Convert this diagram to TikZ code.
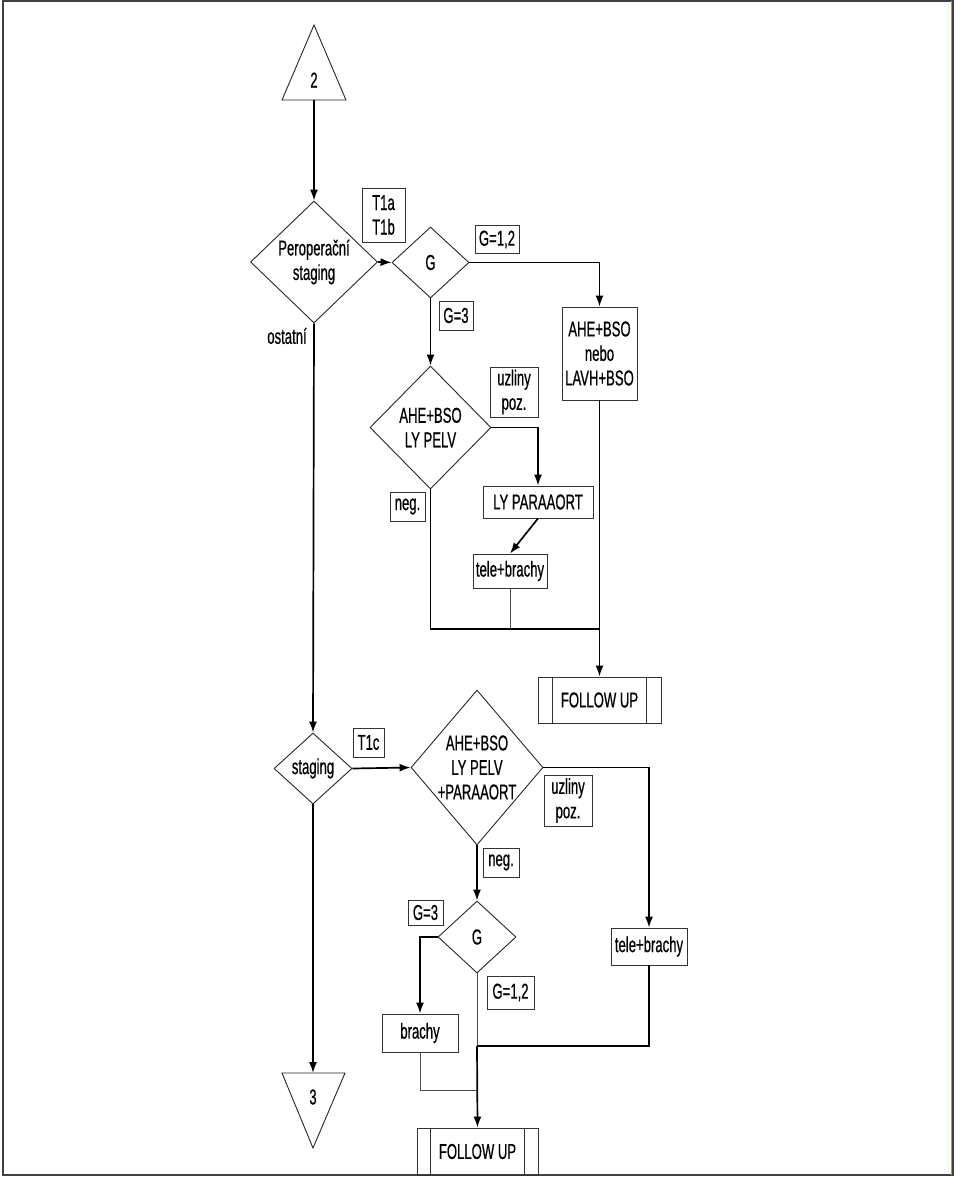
\documentclass[tikz,border=0pt]{standalone}
\usepackage{fontspec}
\setmainfont{Liberation Sans}[FakeStretch=0.61,FakeBold=0.6]
\usetikzlibrary{arrows.meta,shapes.geometric}
\begin{document}
\begin{tikzpicture}[x=1pt,y=-1pt,
 every node/.style={font=\fontsize{21.5}{24.5}\selectfont},
 box/.style={draw=black!80, line width=0.9pt, inner sep=0pt, align=center},
 dia/.style={draw=black!85, diamond, inner sep=0pt, line width=0.9pt},
 txt/.style={align=center, inner sep=0pt},
 conn/.style={line width=1.7pt},
 thinconn/.style={line width=0.9pt, draw=black!70},
 arr/.style={conn, -{Latex[length=11pt,width=8pt]}},
]
\useasboundingbox (0,0) rectangle (960,1183);
% frame
\draw[line width=1.5pt, black!75] (3,1) rectangle (953,1175);
\draw[line width=1pt, orange!85!brown] (951.5,1) -- (951.5,1175);

% top triangle
\draw[line width=0.9pt, black!85] (314,25) -- (346,100) -- (282,100) -- cycle;
\node[txt] (t2) at (314,80) {2};
\coordinate (t2b) at (314,100);

\node[dia, minimum width=127, minimum height=122] (pero) at (314,262) {};
\node[txt] (perot) at (pero) {Peroperační\\staging};
\node[box, minimum width=43, minimum height=54] (t1ab) at (383.5,215) {T1a\\T1b};
\node[dia, minimum width=77, minimum height=71] (g1) at (430.5,262.5) {};
\node[txt] (g1t) at (g1) {G};
\node[box, minimum width=44, minimum height=28] (g12a) at (497,239.5) {G=1,2};
\node[box, minimum width=75, minimum height=93] (ahe1) at (599.5,353.5) {AHE+BSO\\nebo\\LAVH+BSO};
\node[box, minimum width=34, minimum height=29] (g3a) at (456,315.5) {G=3};
\node[dia, minimum width=121, minimum height=123] (d1) at (430.5,427.5) {};
\node[txt] (d1t) at (d1) {AHE+BSO\\LY PELV};
\node[box, minimum width=48, minimum height=50] (uzl1) at (514,392) {uzliny\\poz.};
\node[box, minimum width=110, minimum height=32] (lypa) at (538,502) {LY PARAAORT};
\node[box, minimum width=74, minimum height=34] (tb1) at (510,571) {tele+brachy};
\node[box, minimum width=35, minimum height=29] (neg1) at (407.5,506.5) {neg.};
\node[box, minimum width=123, minimum height=46] (fu1) at (599.5,700) {FOLLOW UP};
\draw[line width=0.9pt, black!80] ([xshift=15]fu1.north west) -- ([xshift=15]fu1.south west);
\draw[line width=0.9pt, black!80] ([xshift=-15]fu1.north east) -- ([xshift=-15]fu1.south east);
\node[txt] (ost) at (287,336) {ostatní};

\node[dia, minimum width=78, minimum height=71] (stag) at (313,768.5) {};
\node[txt] (stagt) at (stag) {staging};
\node[box, minimum width=31, minimum height=29] (t1c) at (368.5,742.5) {T1c};
\node[dia, minimum width=132, minimum height=155] (d2) at (477,767.5) {};
\node[txt] (d2t) at (d2) {AHE+BSO\\LY PELV\\+PARAAORT};
\node[box, minimum width=48, minimum height=51] (uzl2) at (568,800.5) {uzliny\\poz.};
\node[box, minimum width=76, minimum height=37] (tb2) at (649,946.5) {tele+brachy};
\node[box, minimum width=36, minimum height=29] (neg2) at (501,862.5) {neg.};
\node[dia, minimum width=78, minimum height=72] (g2) at (477,937) {};
\node[txt] (g2t) at (g2) {G};
\node[box, minimum width=35, minimum height=25] (g3b) at (425.5,912.5) {G=3};
\node[box, minimum width=76, minimum height=38] (brachy) at (420,1033) {brachy};
\node[box, minimum width=47, minimum height=33] (g12b) at (510.5,992.5) {G=1,2};
\node[box, minimum width=121, minimum height=47] (fu2) at (477.5,1151.5) {FOLLOW UP};
\draw[line width=0.9pt, black!80] ([xshift=14]fu2.north west) -- ([xshift=14]fu2.south west);
\draw[line width=0.9pt, black!80] ([xshift=-14]fu2.north east) -- ([xshift=-14]fu2.south east);

% bottom triangle
\draw[line width=0.9pt, black!85] (282,1073) -- (345,1073) -- (313,1148) -- cycle;
\node[txt] (t3) at (313,1097) {3};
\coordinate (t3top) at (313,1073);

% coordinates for joins
\coordinate (j1) at (599.5,629);
\coordinate (j2) at (477,1046);
\coordinate (j3) at (477,1090);

% connectors
\draw[arr] (t2b) -- (pero.north);
\draw[arr] (pero.east) -- (g1.west);
\draw[arr] (g1.east) -| (ahe1.north);
\draw[arr] (g1.south) -- (d1.north);
\draw[arr] (d1.east) -| (lypa.north);
\draw[arr] (lypa.south) -- (tb1.north);
\draw[conn] (d1.south) |- (j1);
\draw[thinconn] (tb1.south) -- (tb1.south |- j1);
\draw[arr] (ahe1.south) -- (fu1.north);
\draw[arr] (pero.south) -- (stag.north);
\draw[arr] (stag.east) -- (d2.west);
\draw[arr] (d2.east) -| (tb2.north);
\draw[arr] (d2.south) -- (g2.north);
\draw[arr] (g2.west) -| (brachy.north);
\draw[thinconn] (g2.south) -- (j2);
\draw[conn] (tb2.south) |- (j2);
\draw[arr] (j2) -- (fu2.north);
\draw[thinconn] (brachy.south) |- (j3);
\draw[arr] (stag.south) -- (t3top);
\end{tikzpicture}
\end{document}
